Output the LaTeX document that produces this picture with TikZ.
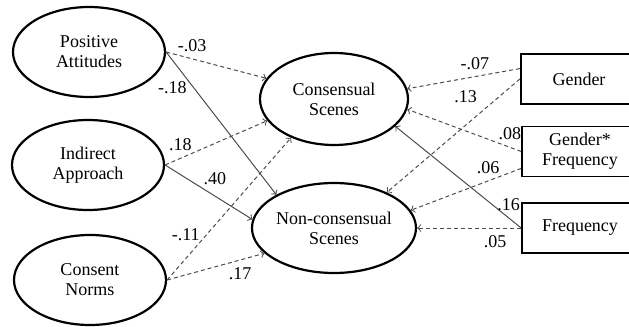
\documentclass[tikz,border=0pt]{standalone}
\usepackage{fontspec}
\setmainfont{Liberation Serif}
\usetikzlibrary{shapes.geometric}

\begin{document}
\begin{tikzpicture}[x=0.5pt,y=-0.5pt,font=\fontsize{9}{10}\selectfont,
  latent/.style={ellipse,draw,line width=1.1pt,inner sep=0pt,align=center,minimum width=76pt,minimum height=45pt},
  observed/.style={rectangle,draw,line width=0.8pt,inner sep=0pt,align=center,minimum width=58pt,minimum height=25pt},
  sig/.style={->,draw=black!70,line width=0.5pt},
  nonsig/.style={->,draw=black!70,line width=0.5pt,dash pattern=on 2pt off 1.5pt}]
\useasboundingbox (0,0) rectangle (629,327);
\clip (0,0) rectangle (629,327);

% predictors
\path (89,52) node[latent] (pa) {Positive\\Attitudes};
\path (88,165) node[latent] (ia) {Indirect\\Approach};
\path (90,280) node[latent] (cn) {Consent\\Norms};

% outcomes
\path (334,99) node[latent,minimum width=74pt,minimum height=46pt] (cs) {Consensual\\Scenes};
\path (334,228) node[latent,minimum width=75pt] (ncs) {Non-consensual\\Scenes};

% covariates
\path (579,79) node[observed,line width=1.1pt] (gen) {Gender};
\path (580,151.5) node[observed] (gf) {Gender*\\Frequency};
\path (580,228) node[observed] (freq) {Frequency};

\draw[nonsig] (pa.east) -- node[pos=.26,above]{-.03} (cs.163);
\draw[sig] (pa.east) -- node[pos=.25,left]{-.18} (ncs.150);
\draw[nonsig] (ia.east) -- node[pos=.15,above]{.18} (cs.198);
\draw[sig] (ia.east) -- node[pos=.57,above=2pt]{.40} (ncs.174);
\draw[nonsig] (cn.east) -- node[pos=.32,left]{-.11} (cs.222);
\draw[nonsig] (cn.east) -- node[pos=.75,below]{.17} (ncs.200);

\draw[nonsig] (gen.170) -- node[pos=.4,above]{-.07} (cs.8);
\draw[nonsig] (gen.west) -- node[pos=.27,above left]{.13} (ncs.34);
\draw[nonsig] (gf.west) -- node[pos=.1,above]{.08} (cs.-8);
\draw[nonsig] (gf.196) -- node[pos=.3,above]{.06} (ncs.13);
\draw[sig] (freq.west) -- node[pos=.1,above]{.16} (cs.-24);
\draw[nonsig] (freq.west) -- node[pos=.25,below]{.05} (ncs.east);
\end{tikzpicture}
\end{document}
